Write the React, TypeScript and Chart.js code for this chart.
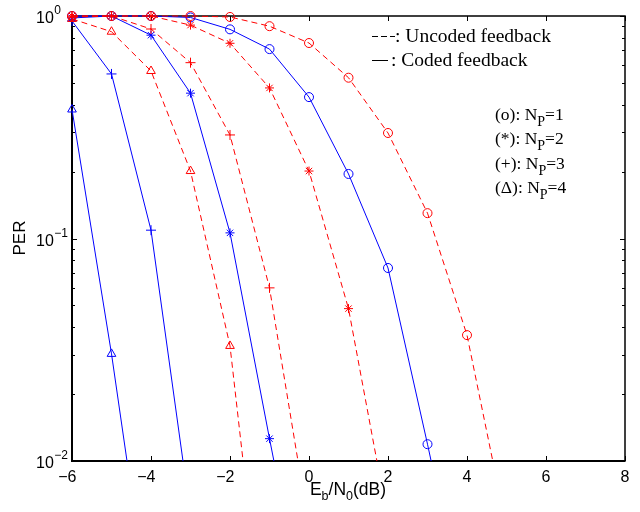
import React, { useEffect, useRef } from "react";
import { Chart, registerables } from "chart.js";
Chart.register(...registerables);

// Eb/N0 (dB) sample points
const snrFull = [-6, -5, -4, -3, -2, -1, 0, 1, 2, 3, 4, 5];

// Uncoded feedback (red dashed)
const uncodedNp1 = [1.0, 1.0, 1.0, 1.0, 0.99, 0.9, 0.756, 0.528, 0.298, 0.13, 0.0368, 0.005];
const uncodedNp2 = [1.0, 1.0, 1.0, 0.91, 0.754, 0.475, 0.201, 0.0484, 0.0054];
const uncodedNp3 = [0.99, 1.0, 0.874, 0.617, 0.292, 0.06, 0.005];
const uncodedNp4 = [0.97, 0.85, 0.566, 0.201, 0.0329, 0.0009];

// Coded feedback (blue solid)
const codedNp1 = [1.0, 1.0, 1.0, 0.985, 0.871, 0.71, 0.432, 0.195, 0.0737, 0.0119, 0.0018];
const codedNp2 = [0.98, 1.0, 0.82, 0.45, 0.106, 0.0126, 0.0016];
const codedNp3 = [0.95, 0.549, 0.109, 0.0057];
const codedNp4 = [0.38, 0.0303, 0.0018];

const xTicks = [-6, -4, -2, 0, 2, 4, 6, 8];
const yTicks = [1, 0.1, 0.01];
const yTickExp = ["0", "\u22121", "\u22122"];
const legendLines = ["(o): N", "(*): N", "(+): N", "(\u0394): N"];
const legendValues = ["=1", "=2", "=3", "=4"];

const RED = "#ff0000";
const BLUE = "#0000ff";

function pts(vals: number[]) {
  return vals.map((v, i) => ({ x: snrFull[i], y: v }));
}

function ds(vals: number[], color: string, dashed: boolean, style: string, radius: number) {
  return {
    data: pts(vals),
    borderColor: color,
    backgroundColor: "rgba(0,0,0,0)",
    borderWidth: 1,
    borderDash: dashed ? [6, 4] : [],
    pointStyle: style,
    pointRadius: radius,
    pointBorderColor: color,
    pointBackgroundColor: "rgba(0,0,0,0)",
    pointBorderWidth: 1,
    tension: 0,
    fill: false,
    clip: { left: 10, top: 10, right: 10, bottom: 0 },
  };
}

const SANS = '"Liberation Sans", Arial, sans-serif';
const SERIF = '"Liberation Serif", "Times New Roman", serif';

const decorPlugin = {
  id: "decor",
  beforeDatasetsDraw(chart: any) {
    const ctx = chart.ctx;
    const a = chart.chartArea;
    const xs = chart.scales.x;
    const ys = chart.scales.y;
    ctx.save();
    ctx.strokeStyle = "#000";
    ctx.lineWidth = 1;
    ctx.beginPath();
    for (const t of xTicks) {
      const px = Math.round(xs.getPixelForValue(t)) + 0.5;
      ctx.moveTo(px, a.bottom);
      ctx.lineTo(px, a.bottom - 5);
      ctx.moveTo(px, a.top);
      ctx.lineTo(px, a.top + 5);
    }
    for (const d of [0.01, 0.1]) {
      for (let m = 1; m <= 10; m++) {
        const v = d * m;
        const py = Math.round(ys.getPixelForValue(v)) + 0.5;
        const len = m === 1 || m === 10 ? 5 : 3;
        ctx.moveTo(a.left, py);
        ctx.lineTo(a.left + len, py);
        ctx.moveTo(a.right, py);
        ctx.lineTo(a.right - len, py);
      }
    }
    ctx.stroke();
    ctx.lineWidth = 1.5;
    ctx.strokeRect(a.left, a.top, a.right - a.left, a.bottom - a.top);
    ctx.lineWidth = 2;
    ctx.beginPath();
    ctx.moveTo(a.left, a.top);
    ctx.lineTo(a.left, a.bottom);
    ctx.lineTo(a.right, a.bottom);
    ctx.stroke();
    ctx.restore();
  },
  afterDraw(chart: any) {
    const ctx = chart.ctx;
    const xs = chart.scales.x;
    const ys = chart.scales.y;
    ctx.save();
    ctx.fillStyle = "#000";
    ctx.textBaseline = "alphabetic";

    yTicks.forEach((v, i) => {
      const py = ys.getPixelForValue(v);
      ctx.font = "16px " + SANS;
      ctx.textAlign = "left";
      ctx.fillText("10", 36, py + 7);
      const w = ctx.measureText("10").width;
      ctx.font = "12px " + SANS;
      ctx.fillText(yTickExp[i], 36 + w + 0.5, py - 2);
    });

    ctx.font = "16px " + SANS;
    for (const t of xTicks) {
      const px = xs.getPixelForValue(t);
      const digits = String(Math.abs(t));
      const dw = ctx.measureText(digits).width;
      ctx.textAlign = "left";
      ctx.fillText(digits, px - dw / 2, 482);
      if (t < 0) {
        ctx.textAlign = "right";
        ctx.fillText("\u2212", px - dw / 2, 482);
      }
    }

    const parts: [string, boolean][] = [["E", false], ["b", true], ["/N", false], ["0", true], ["(dB)", false]];
    let total = 0;
    for (const [s, sub] of parts) {
      ctx.font = (sub ? "12.5px " : "17.5px ") + SANS;
      total += ctx.measureText(s).width;
    }
    let x = 348 - total / 2;
    ctx.textAlign = "left";
    for (const [s, sub] of parts) {
      ctx.font = (sub ? "12.5px " : "17.5px ") + SANS;
      ctx.fillText(s, x, sub ? 500 : 495);
      x += ctx.measureText(s).width;
    }

    ctx.save();
    ctx.translate(20, 238);
    ctx.rotate(-Math.PI / 2);
    ctx.font = "17px " + SANS;
    ctx.textAlign = "center";
    ctx.textBaseline = "middle";
    ctx.fillText("PER", 0, 0);
    ctx.restore();

    ctx.strokeStyle = "#000";
    ctx.lineWidth = 1;
    ctx.beginPath();
    for (const [s, e] of [[372, 378], [381, 387], [390, 395]]) {
      ctx.moveTo(s, 36.5);
      ctx.lineTo(e, 36.5);
    }
    ctx.moveTo(372, 60.5);
    ctx.lineTo(388, 60.5);
    ctx.stroke();
    ctx.font = "19.5px " + SERIF;
    ctx.textAlign = "left";
    ctx.fillText(": Uncoded feedback", 395, 42);
    ctx.fillText(": Coded feedback", 391, 66);

    const bases = [120, 144.3, 168.6, 193];
    legendLines.forEach((s, i) => {
      const by = bases[i];
      ctx.font = "17.5px " + SERIF;
      ctx.fillText(s, 495, by);
      let w = ctx.measureText(s).width;
      ctx.font = "14px " + SERIF;
      ctx.fillText("P", 495 + w, by + 6);
      w += ctx.measureText("P").width;
      ctx.font = "17.5px " + SERIF;
      ctx.fillText(legendValues[i], 495 + w, by);
    });

    ctx.restore();
  },
};

export default function App() {
  const ref = useRef<HTMLCanvasElement | null>(null);
  useEffect(() => {
    if (!ref.current) return;
    const chart = new Chart(ref.current, {
      type: "line",
      data: {
        datasets: [
          ds(uncodedNp1, RED, true, "circle", 4.5),
          ds(uncodedNp2, RED, true, "star", 4.5),
          ds(uncodedNp3, RED, true, "cross", 5),
          ds(uncodedNp4, RED, true, "triangle", 5),
          ds(codedNp1, BLUE, false, "circle", 4.5),
          ds(codedNp2, BLUE, false, "star", 4.5),
          ds(codedNp3, BLUE, false, "cross", 5),
          ds(codedNp4, BLUE, false, "triangle", 5),
        ] as any,
      },
      options: {
        responsive: false,
        animation: false,
        devicePixelRatio: 1,
        layout: { padding: { top: 16, right: 15, left: 0, bottom: 0 } },
        plugins: { legend: { display: false }, tooltip: { enabled: false } },
        scales: {
          x: {
            type: "linear",
            min: -6,
            max: 8,
            grid: { display: false },
            border: { display: false },
            ticks: { display: false },
            afterFit: (s: any) => {
              s.height = 51;
            },
          },
          y: {
            type: "logarithmic",
            min: 0.01,
            max: 1,
            grid: { display: false },
            border: { display: false },
            ticks: { display: false },
            afterFit: (s: any) => {
              s.width = 72;
            },
          },
        },
      } as any,
      plugins: [decorPlugin],
    });
    return () => chart.destroy();
  }, []);
  return (
    <div style={{ position: "absolute", left: 0, top: 0, width: 640, height: 512, background: "#fff" }}>
      <canvas ref={ref} width={640} height={512} />
    </div>
  );
}
